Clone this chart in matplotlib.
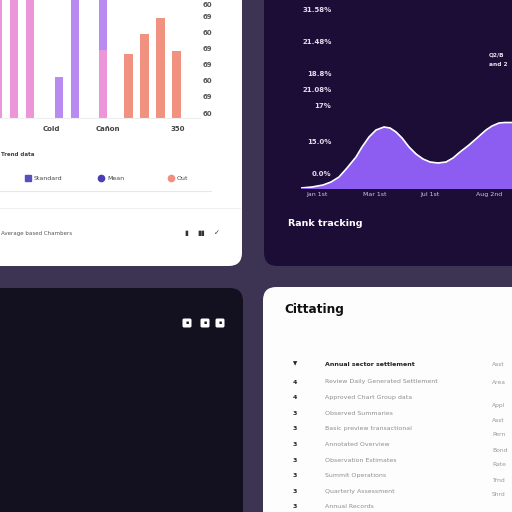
import matplotlib
matplotlib.use("Agg")
import matplotlib.pyplot as plt
from matplotlib.patches import FancyBboxPatch
from matplotlib.lines import Line2D

# ---- data -------------------------------------------------------------------
# bar chart (top-left card)
bar_x = [-0.0625, 0.94, 1.94, 3.75, 4.75, 6.5, 8.1, 9.1, 10.1, 11.1]
bar_h = [80, 80, 80, 25.6, 80, 42.5, 40, 52.5, 62.5, 42]
bar_top = [0, 0, 0, 0, 0, 37.5, 0, 0, 0, 0]          # purple cap stacked on bar 6
bar_kind = ["pink", "pink", "pink", "purple", "purple", "pink",
            "salmon", "salmon", "salmon", "salmon"]
bar_yticks = [3, 13.5, 23.5, 33.5, 43.5, 53.5, 63.5, 71]
bar_ylabels = ["60", "69", "60", "69", "69", "60", "69", "60"]
bar_xticks = [3.3, 6.8, 11.2]
bar_xlabels = ["Cold", "Cañon", "350"]
legend_names = ["Standard", "Mean", "Out"]

# area chart (top-right card)
days = [0, 11, 22, 30, 38, 46, 55, 61, 68, 75, 83, 89, 95, 101, 108, 115,
        122, 129, 137, 145, 152, 159, 168, 176, 185, 191, 198, 204, 211]
rank = [0.0, 0.1, 0.3, 0.6, 1.1, 2.0, 3.1, 4.1, 5.1, 5.8, 6.1, 6.0, 5.6,
        5.0, 4.1, 3.4, 2.9, 2.6, 2.5, 2.6, 3.0, 3.6, 4.3, 5.0, 5.8, 6.2,
        6.5, 6.55, 6.55]
area_yticks = [1.5, 4.7, 8.3, 9.9, 11.5, 14.7, 17.9]
area_ylabels = ["0.0%", "15.0%", "17%", "21.08%", "18.8%", "21.48%", "31.58%"]
area_xticks = [16, 74, 129, 188]
area_xlabels = ["Jan 1st", "Mar 1st", "Jul 1st", "Aug 2nd"]

# table (bottom-right card)
row_counts = ["4", "4", "3", "3", "3", "3", "3", "3", "3"]
row_names = ["Review Daily Generated Settlement", "Approved Chart Group data",
             "Observed Summaries", "Basic preview transactional",
             "Annotated Overview", "Observation Estimates",
             "Summit Operations", "Quarterly Assessment", "Annual Records"]
row_right = ["Area", "Appl", "Asst", "Pern", "Bond",
             "Rate", "Trnd", "Shrd", "Finl"]

# ---- styling ----------------------------------------------------------------
BG = "#3d3454"
COL = {"pink": "#ec95d8", "purple": "#b98bf1", "salmon": "#f1917f"}

W = 512.0
def fx(x): return x / W
def fy(y): return 1 - y / W

fig = plt.figure(figsize=(5.12, 5.12), dpi=100, facecolor=BG)

def card(x0, y0, x1, y1, color):
    p = FancyBboxPatch((fx(x0), fy(y1)), (x1 - x0) / W, (y1 - y0) / W,
                       boxstyle="round,pad=0,rounding_size=0.026",
                       transform=fig.transFigure, facecolor=color,
                       edgecolor="none", zorder=0)
    fig.add_artist(p)

card(-30, -30, 242, 266, "white")
card(264, -30, 540, 266, "#1c0d37")
card(-30, 288, 243, 540, "#13111f")
card(263, 287, 540, 540, "#fdfdfd")

# ---- bar chart ----------------------------------------------------------------
ax = fig.add_axes([0, fy(118), fx(200), 118 / W])
ax.set_facecolor("none")
for x, h, t, k in zip(bar_x, bar_h, bar_top, bar_kind):
    ax.bar(x, h, width=0.53, color=COL[k], zorder=2)
    if t:
        ax.bar(x, t, width=0.53, bottom=h, color=COL["purple"], zorder=2)
ax.set_xlim(0.0625, 12.56)
ax.set_ylim(0, 73.75)
for s in ["top", "left", "right"]:
    ax.spines[s].set_visible(False)
ax.spines["bottom"].set_color("#eeeeee")
ax.set_yticks(bar_yticks, bar_ylabels)
ax.yaxis.tick_right()
ax.tick_params(axis="y", length=0, pad=2, labelsize=5, labelcolor="#555555")
for lab in ax.get_yticklabels():
    lab.set_fontweight("bold")
ax.set_xticks(bar_xticks, bar_xlabels)
ax.tick_params(axis="x", length=0, pad=6, labelsize=5, labelcolor="#444444")
for lab in ax.get_xticklabels():
    lab.set_fontweight("bold")

fig.text(fx(1), fy(155), "Trend data", ha="left", va="center",
         fontsize=4, color="#444444", fontweight="bold")
for (mx, mk, mc), name in zip([(28, "s", "#5a4fba"), (101, "o", "#4b3db4"),
                               (171, "o", "#ef8f7f")], legend_names):
    fig.add_artist(Line2D([fx(mx)], [fy(178)], marker=mk, markersize=4.5,
                          color=mc, transform=fig.transFigure))
    fig.text(fx(mx + 6), fy(178), name, ha="left", va="center",
             fontsize=4.5, color="#444444")
fig.add_artist(Line2D([0, fx(211)], [fy(191), fy(191)], color="#e8e8e8",
                      lw=0.8, transform=fig.transFigure))
fig.add_artist(Line2D([0, fx(240)], [fy(208), fy(208)], color="#efefef",
                      lw=0.8, transform=fig.transFigure))
fig.text(fx(1), fy(233), "Average based Chambers", ha="left", va="center",
         fontsize=4, color="#555555")
for ix, g in zip([186, 201, 217], ["▮", "▮▮", "✓"]):
    fig.text(fx(ix), fy(233), g, ha="center", va="center", fontsize=5,
             color="#333333", fontweight="bold")

# ---- area chart -----------------------------------------------------------------
ax2 = fig.add_axes([fx(301), fy(188), 211 / W, 188 / W])
ax2.set_facecolor("none")
ax2.fill_between(days, rank, 0, color="#8c5df0", zorder=2)
ax2.plot(days, rank, color="white", lw=1.2, zorder=3, solid_capstyle="round")
ax2.set_xlim(0, 211)
ax2.set_ylim(0, 18.8)
for s in ax2.spines.values():
    s.set_visible(False)
ax2.set_yticks(area_yticks, area_ylabels)
ax2.tick_params(axis="y", length=0, pad=-22, labelsize=5, labelcolor="#e2dcef")
for lab in ax2.get_yticklabels():
    lab.set_fontweight("bold")
ax2.set_xticks(area_xticks, area_xlabels)
ax2.tick_params(axis="x", length=0, pad=3, labelsize=4.5, labelcolor="#cfc7e0")
fig.text(fx(489), fy(55), "Q2/B", ha="left", va="center", fontsize=4.2,
         color="#e6e0f0", fontweight="bold")
fig.text(fx(489), fy(64), "and 2", ha="left", va="center", fontsize=4.2,
         color="#e6e0f0", fontweight="bold")
fig.text(fx(288), fy(224), "Rank tracking", ha="left", va="center",
         fontsize=6.8, color="white", fontweight="bold")

# ---- bottom-left card icons ----------------------------------------------------------
for ix in [187, 205, 220]:
    fig.add_artist(FancyBboxPatch((fx(ix - 4.5), fy(327.5)), 9 / W, 9 / W,
                                  boxstyle="round,pad=0,rounding_size=0.003",
                                  transform=fig.transFigure,
                                  facecolor="white", edgecolor="none"))
    fig.text(fx(ix), fy(323), "▪", ha="center", va="center", fontsize=3.5,
             color="#13111f")

# ---- table -----------------------------------------------------------------------------
fig.text(fx(284), fy(310), "Cittating", ha="left", va="center",
         fontsize=8.7, color="#111111", fontweight="bold")
fig.text(fx(295), fy(364), "▼", ha="center", va="center", fontsize=4,
         color="#222222")
fig.text(fx(325), fy(364), "Annual sector settlement", ha="left",
         va="center", fontsize=4.5, color="#222222", fontweight="bold")
fig.text(fx(492), fy(365), "Asst", ha="left", va="center", fontsize=4.3,
         color="#999999")
for i, (n, name, rt) in enumerate(zip(row_counts, row_names, row_right)):
    y = 382 + i * 15.6
    fig.text(fx(295), fy(y), n, ha="center", va="center", fontsize=4.5,
             color="#222222", fontweight="bold")
    fig.text(fx(325), fy(y), name, ha="left", va="center", fontsize=4.5,
             color="#8e8e8e")
    ry = 383 if i == 0 else 390 + i * 15.0
    if ry < 508:
        fig.text(fx(492), fy(ry), rt, ha="left", va="center", fontsize=4.3,
                 color="#999999")

fig.savefig("out.png", dpi=100, facecolor=BG)
